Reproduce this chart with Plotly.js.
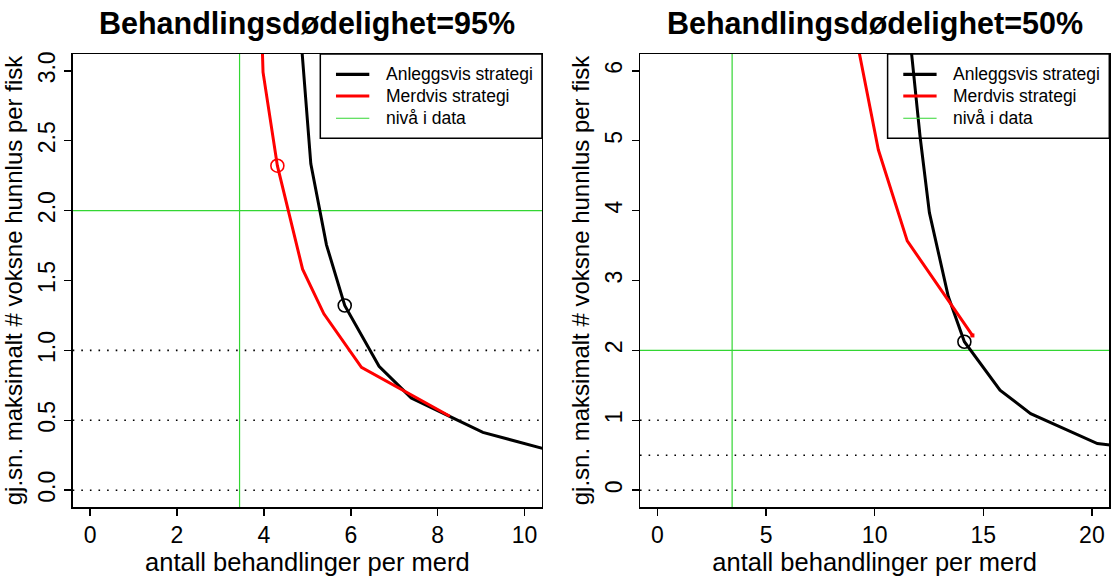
<!DOCTYPE html>
<html>
<head>
<meta charset="utf-8">
<script src="https://cdn.plot.ly/plotly-3.0.1.min.js"></script>
<style>html,body{margin:0;padding:0;background:#fff;}#chart{width:1112px;height:576px;}</style>
</head>
<body>
<div id="chart"></div>
<script>
// ---- data: Behandlingsdødelighet = 95% ----
const anleggX95 = [4.71, 5.08, 5.44, 5.86, 6.65, 7.39, 9.04, 10.7];
const anleggY95 = [3.80, 2.334, 1.755, 1.321, 0.886, 0.660, 0.414, 0.275];
const merdX95 = [3.92, 3.98, 4.31, 4.89, 5.38, 6.245, 8.28];
const merdY95 = [3.60, 2.99, 2.321, 1.581, 1.262, 0.879, 0.529];
const circleAnleggX95 = [5.86], circleAnleggY95 = [1.321];
const circleMerdX95 = [4.31], circleMerdY95 = [2.321];

// ---- data: Behandlingsdødelighet = 50% ----
const anleggX50 = [11.55, 12.09, 12.52, 13.39, 14.13, 15.77, 17.18, 20.25, 21.0];
const anleggY50 = [6.70, 5.06, 3.97, 2.77, 2.124, 1.43, 1.096, 0.667, 0.64];
const merdX50 = [8.98, 10.17, 11.5, 14.5];
const merdY50 = [6.75, 4.87, 3.567, 2.214];
const circleAnleggX50 = [14.13], circleAnleggY50 = [2.124];

// reference levels
const nivaaX = [3.44];          // nivå i data (behandlinger)
const nivaaY = [2.0];           // nivå i data (lus)
const dottedLevels = [0, 0.5, 1.0];

const titles = ['Behandlingsdødelighet=95%', 'Behandlingsdødelighet=50%'];
const legendLabels = ['Anleggsvis strategi', 'Merdvis strategi', 'nivå i data'];
const xTicks95 = [0, 2, 4, 6, 8, 10];
const yTicks95 = [0, 0.5, 1.0, 1.5, 2.0, 2.5, 3.0];
const xTicks50 = [0, 5, 10, 15, 20];
const yTicks50 = [0, 1, 2, 3, 4, 5, 6];
const xLabel = 'antall behandlinger per merd';
const yLabel = 'gj.sn. maksimalt # voksne hunnlus per fisk';

const BLACK = '#000000', RED = '#ff0000', GREEN = '#33d633';
const FONT = 'Liberation Sans, Arial, Helvetica, sans-serif';

function line(x, y, color, xa, ya) {
  return {x: x, y: y, type: 'scatter', mode: 'lines', xaxis: xa, yaxis: ya,
          line: {color: color, width: 3}, showlegend: false, hoverinfo: 'skip'};
}
function circ(x, y, color, xa, ya) {
  return {x: x, y: y, type: 'scatter', mode: 'markers', xaxis: xa, yaxis: ya,
          marker: {symbol: 'circle-open', size: 13, color: color, line: {color: color, width: 1.6}},
          showlegend: false, hoverinfo: 'skip'};
}

const traces = [
  line(anleggX95, anleggY95, BLACK, 'x', 'y'),
  line(merdX95, merdY95, RED, 'x', 'y'),
  circ(circleMerdX95, circleMerdY95, RED, 'x', 'y'),
  circ(circleAnleggX95, circleAnleggY95, BLACK, 'x', 'y'),
  line(anleggX50, anleggY50, BLACK, 'x2', 'y2'),
  line(merdX50, merdY50, RED, 'x2', 'y2'),
  {x: merdX50.slice(-1), y: merdY50.slice(-1), type: 'scatter', mode: 'markers', xaxis: 'x2', yaxis: 'y2',
   marker: {symbol: 'square', size: 4, color: RED}, showlegend: false, hoverinfo: 'skip'},
  circ(circleAnleggX50, circleAnleggY50, BLACK, 'x2', 'y2')
];

const shapes = [];
const annotations = [];
[['x', 'y'], ['x2', 'y2']].forEach(function (ax, i) {
  const xa = ax[0], ya = ax[1];
  // dotted horizontal levels
  dottedLevels.forEach(function (v) {
    shapes.push({type: 'line', xref: xa + ' domain', yref: ya, x0: 0, x1: 1, y0: v, y1: v,
                 line: {color: BLACK, width: 1.6, dash: '1.6px,7px'}, layer: 'below'});
  });
  // green levels
  nivaaX.forEach(function (v) {
    shapes.push({type: 'line', xref: xa, yref: ya + ' domain', x0: v, x1: v, y0: 0, y1: 1,
                 line: {color: GREEN, width: 1.2}, layer: 'below'});
  });
  nivaaY.forEach(function (v) {
    shapes.push({type: 'line', xref: xa + ' domain', yref: ya, x0: 0, x1: 1, y0: v, y1: v,
                 line: {color: GREEN, width: 1.2}, layer: 'below'});
  });
  // legend box
  shapes.push({type: 'rect', xref: xa + ' domain', yref: ya + ' domain', x0: 0.5276, x1: 1, y0: 0.814, y1: 1,
               line: {color: BLACK, width: 1.5}, fillcolor: 'rgba(0,0,0,0)', layer: 'below'});
  const rowY = [0.9552, 0.9073, 0.8582];
  const cols = [BLACK, RED, GREEN];
  const widths = [3.2, 3.2, 1.2];
  rowY.forEach(function (yy, k) {
    shapes.push({type: 'line', xref: xa + ' domain', yref: ya + ' domain', x0: 0.561, x1: 0.632, y0: yy, y1: yy,
                 line: {color: cols[k], width: widths[k]}});
    annotations.push({xref: xa + ' domain', yref: ya + ' domain', x: 0.6633, y: yy, xanchor: 'left', yanchor: 'middle',
                      text: legendLabels[k], showarrow: false, font: {family: FONT, size: 17.5, color: BLACK}});
  });
  annotations.push({xref: xa + ' domain', yref: 'paper', x: 0.5, y: 1.068, xanchor: 'center', yanchor: 'middle',
                    text: '<b>' + titles[i] + '</b>', showarrow: false, font: {family: FONT, size: 30.5, color: BLACK}});
});

function axisBase() {
  return {showline: true, mirror: true, linecolor: BLACK, linewidth: 1.5, ticks: 'outside', ticklen: 7,
          tickwidth: 1.5, tickcolor: BLACK, showgrid: false, zeroline: false,
          tickfont: {family: FONT, size: 23, color: BLACK}};
}
const xTitleFont = {family: FONT, size: 25.5, color: BLACK};
const yTitleFont = {family: FONT, size: 24, color: BLACK};
const layout = {
  width: 1112, height: 576,
  margin: {l: 0, r: 0, t: 54, b: 69},
  paper_bgcolor: '#ffffff', plot_bgcolor: '#ffffff',
  showlegend: false,
  font: {family: FONT, color: BLACK},
  xaxis: Object.assign(axisBase(), {domain: [0.06538, 0.48741], range: [-0.4, 10.4], tickvals: xTicks95,
          anchor: 'y', title: {text: xLabel, font: xTitleFont, standoff: 3}}),
  yaxis: Object.assign(axisBase(), {domain: [0, 1], range: [-0.12, 3.12], tickvals: yTicks95, tickformat: '.1f',
          tickangle: -90, anchor: 'x', title: {text: yLabel, font: yTitleFont, standoff: 5}}),
  xaxis2: Object.assign(axisBase(), {domain: [0.57554, 0.99757], range: [-0.8, 20.8], tickvals: xTicks50,
          anchor: 'y2', title: {text: xLabel, font: xTitleFont, standoff: 3}}),
  yaxis2: Object.assign(axisBase(), {domain: [0, 1], range: [-0.24, 6.24], tickvals: yTicks50,
          tickangle: -90, anchor: 'x2', title: {text: yLabel, font: yTitleFont, standoff: 5}}),
  shapes: shapes,
  annotations: annotations
};

Plotly.newPlot('chart', traces, layout, {staticPlot: true, displayModeBar: false});
</script>
</body>
</html>
